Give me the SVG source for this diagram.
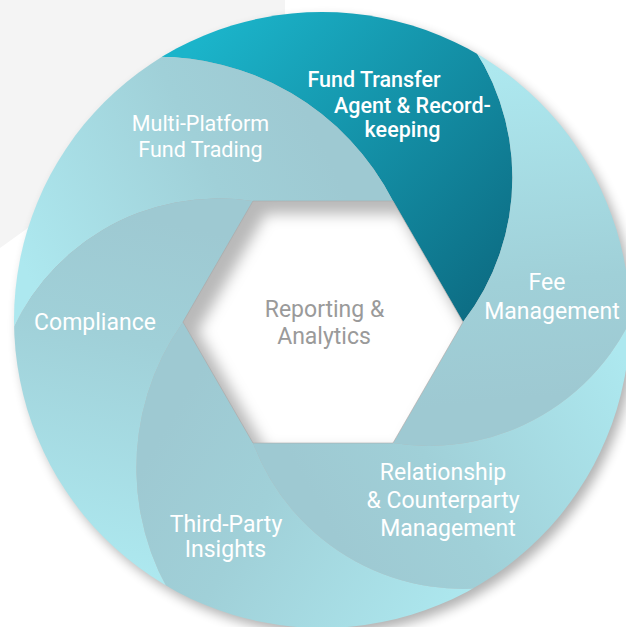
<svg xmlns="http://www.w3.org/2000/svg" width="626" height="627" viewBox="0 0 626 627">
<defs>
<style>
.lbl { font-family: Roboto, "Liberation Sans", sans-serif; fill: #ffffff; text-anchor: middle; font-weight: 400; font-size: 23px; }
.mp { font-size: 21.5px; }
.ft { font-weight: 500; font-size: 21.5px; }
.center { fill: #9a9a9a; }
</style>
<clipPath id="disc"><circle cx="322" cy="320" r="308"/></clipPath>
<clipPath id="hexClip"><path d="M253,201 L393,201 L463,322 L393,443 L253,443 L183,322 Z"/></clipPath>
<filter id="blur7" x="-30%" y="-30%" width="160%" height="160%"><feGaussianBlur stdDeviation="7"/></filter>
<filter id="shadow" x="-20%" y="-20%" width="140%" height="140%"><feGaussianBlur stdDeviation="6"/></filter>
<linearGradient id="gFT" gradientUnits="userSpaceOnUse" x1="200" y1="40" x2="480" y2="300">
<stop offset="0" stop-color="#1bb4ca"/><stop offset="1" stop-color="#0d6e85"/>
</linearGradient>
<linearGradient id="gMP" gradientUnits="userSpaceOnUse" x1="330" y1="160" x2="40" y2="300">
<stop offset="0" stop-color="#9ec9d2"/><stop offset="0.35" stop-color="#a0d0d8"/><stop offset="1" stop-color="#ade8ef"/>
</linearGradient>
<linearGradient id="gFee" gradientUnits="userSpaceOnUse" x1="510" y1="400" x2="480" y2="70">
<stop offset="0" stop-color="#9ec9d2"/><stop offset="0.35" stop-color="#a0d0d8"/><stop offset="1" stop-color="#ade8ef"/>
</linearGradient>
<linearGradient id="gRel" gradientUnits="userSpaceOnUse" x1="320" y1="510" x2="615" y2="345">
<stop offset="0" stop-color="#9ec9d2"/><stop offset="0.35" stop-color="#a0d0d8"/><stop offset="1" stop-color="#ade8ef"/>
</linearGradient>
<linearGradient id="gTP" gradientUnits="userSpaceOnUse" x1="170" y1="420" x2="470" y2="600">
<stop offset="0" stop-color="#9ec9d2"/><stop offset="0.35" stop-color="#a0d0d8"/><stop offset="1" stop-color="#ade8ef"/>
</linearGradient>
<linearGradient id="gComp" gradientUnits="userSpaceOnUse" x1="200" y1="230" x2="120" y2="570">
<stop offset="0" stop-color="#9ec9d2"/><stop offset="0.35" stop-color="#a0d0d8"/><stop offset="1" stop-color="#ade8ef"/>
</linearGradient>
</defs>

<rect x="0" y="0" width="626" height="627" fill="#ffffff"/>
<polygon points="0,0 285,0 285,40 60,205 0,248" fill="#f4f4f4"/>
<circle cx="327" cy="326" r="308" fill="#000000" opacity="0.3" filter="url(#shadow)"/>

<g clip-path="url(#disc)">
<g id="node-fund-transfer">
<path d="M463,322 A236,236 0 0 0 463,33 L293,-129 L148,57 A264.3,264.3 0 0 1 393,201 Z" fill="url(#gFT)"/>
</g>
<g id="node-multi-platform">
<path d="M393,201 A264.3,264.3 0 0 0 148,57 L-83,124 L5,348 A226.9,226.9 0 0 1 253,201 Z" fill="url(#gMP)"/>
</g>
<g id="node-fee">
<path d="M393,443 A224.7,224.7 0 0 0 646,279 L688,59 L463,33 A236,236 0 0 1 463,322 Z" fill="url(#gFee)"/>
</g>
<g id="node-relationship">
<path d="M253,443 A224.6,224.6 0 0 0 510,584 L734,500 L646,279 A224.7,224.7 0 0 1 393,443 Z" fill="url(#gRel)"/>
</g>
<g id="node-third-party">
<path d="M183,322 A251.3,251.3 0 0 0 190,623 L369,767 L510,584 A224.6,224.6 0 0 1 253,443 Z" fill="url(#gTP)"/>
</g>
<g id="node-compliance">
<path d="M253,201 A226.9,226.9 0 0 0 5,348 L-43,583 L190,623 A251.3,251.3 0 0 1 183,322 Z" fill="url(#gComp)"/>
</g>
</g>

<g id="node-reporting">
<path d="M253,201 L393,201 L463,322 L393,443 L253,443 L183,322 Z" fill="#b9b9b9"/>
<g clip-path="url(#hexClip)">
<path d="M266,214 L401,214 L468,331 L401,450 L266,450 L198,331 Z" fill="#ffffff" filter="url(#blur7)"/>
</g>
<path d="M253,201 L393,201 L463,322 L393,443 L253,443 L183,322 Z" fill="none" stroke="#a8a8a8" stroke-width="0.8" opacity="0.7"/>
<text class="lbl center" x="324.5" y="316.5">Reporting &amp;</text>
<text class="lbl center" x="324" y="344">Analytics</text>
</g>

<g id="labels">
<text class="lbl mp" x="200.5" y="131">Multi-Platform</text>
<text class="lbl mp" x="200.5" y="157">Fund Trading</text>
<text class="lbl ft" x="374" y="87">Fund Transfer</text>
<text class="lbl ft" x="412.5" y="113">Agent &amp; Record-</text>
<text class="lbl ft" x="402.5" y="137">keeping</text>
<text class="lbl" x="547" y="290">Fee</text>
<text class="lbl" x="552" y="318.5">Management</text>
<text class="lbl" x="443" y="480">Relationship</text>
<text class="lbl" x="443" y="508">&amp; Counterparty</text>
<text class="lbl" x="448" y="536">Management</text>
<text class="lbl" x="226" y="531.5">Third-Party</text>
<text class="lbl" x="225.5" y="557">Insights</text>
<text class="lbl" x="95" y="330">Compliance</text>
</g>

<g id="connectors"/>
</svg>
